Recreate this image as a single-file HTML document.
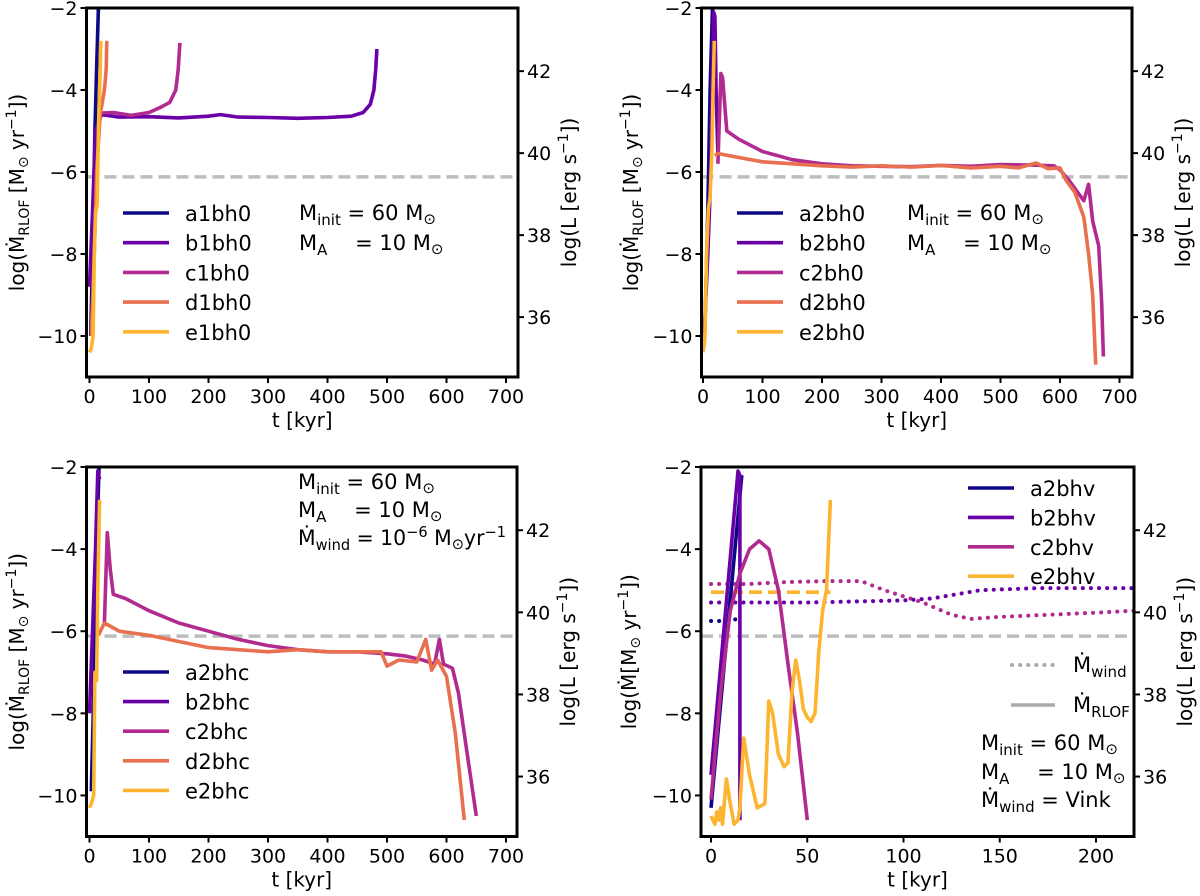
<!DOCTYPE html>
<html><head><meta charset="utf-8"><style>
body{margin:0;background:#fff;}
svg{display:block;font-family:"DejaVu Sans","Liberation Sans",sans-serif;}
</style></head><body>
<svg id="fig" width="1200" height="896" viewBox="0 0 1200 896"></svg>
<script>
// ---- data (t [kyr], log Mdot) ----
const p1Names = ["a1bh0","b1bh0","c1bh0","d1bh0","e1bh0"];
const p1a = [[2,-10],[6,-7.5],[9,-5],[12,-3.5],[15,-2]];
const p1b = [[0,-8.8],[5,-7],[10,-5],[20,-4.6],[50,-4.66],[100,-4.65],[150,-4.68],[200,-4.64],[220,-4.6],[250,-4.66],[300,-4.67],[350,-4.69],[400,-4.67],[440,-4.64],[460,-4.55],[472,-4.35],[478,-4.0],[481,-3.5],[483,-3.0]];
const p1c = [[20,-4.56],[40,-4.55],[70,-4.62],[100,-4.55],[120,-4.42],[135,-4.3],[145,-4.0],[149,-3.5],[152,-2.85]];
const p1d = [[3,-10],[8,-8],[12,-6],[18,-4.6],[25,-4],[28,-3.5],[29,-2.8]];
const p1e = [[0,-10.4],[3,-10.3],[6,-10],[8,-8],[10,-7],[13,-6.8],[15,-5],[17,-4],[19,-2.8]];

const p2Names = ["a2bh0","b2bh0","c2bh0","d2bh0","e2bh0"];
const p2a = [[3,-9.9],[8,-7],[12,-4],[16,-2]];
const p2b = [[2,-10],[8,-8],[12,-6.5],[15,-4],[18,-2.1],[20,-2.2],[22,-4],[25,-5.6]];
const p2c = [[25,-5.8],[30,-3.6],[33,-3.7],[40,-5],[60,-5.2],[100,-5.5],[150,-5.7],[200,-5.8],[250,-5.85],[300,-5.86],[350,-5.87],[400,-5.84],[450,-5.86],[500,-5.82],[550,-5.83],[590,-5.85],[600,-5.95],[615,-6.2],[630,-6.5],[640,-6.7],[648,-6.3],[655,-7.2],[665,-7.8],[670,-9.2],[673,-10.5]];
const p2d = [[20,-5.6],[25,-5.55],[50,-5.62],[100,-5.75],[150,-5.8],[200,-5.85],[250,-5.88],[300,-5.85],[350,-5.88],[400,-5.84],[450,-5.9],[500,-5.86],[530,-5.9],[560,-5.78],[580,-5.92],[600,-5.9],[610,-6.2],[625,-6.5],[640,-7.1],[648,-8],[655,-9],[660,-10.7]];
const p2e = [[0,-10.4],[3,-10.1],[6,-8],[9,-6.9],[12,-6.6],[15,-5.5],[17,-4],[19,-2.8]];

const p3Names = ["a2bhc","b2bhc","c2bhc","d2bhc","e2bhc"];
const p3a = [[3,-9.9],[8,-7],[12,-4],[16,-2]];
const p3b = [[0,-8],[5,-6],[10,-4],[14,-2.1],[17,-2.3]];
const p3c = [[25,-5.8],[30,-3.6],[35,-4.5],[40,-5.1],[60,-5.2],[100,-5.5],[150,-5.8],[200,-6.0],[250,-6.2],[300,-6.35],[350,-6.45],[400,-6.5],[450,-6.5],[500,-6.55],[530,-6.6],[560,-6.7],[580,-6.8],[588,-6.2],[595,-6.8],[610,-6.9],[620,-7.5],[630,-8.5],[640,-9.5],[650,-10.5]];
const p3d = [[15,-6.1],[25,-5.8],[50,-6],[100,-6.1],[150,-6.25],[200,-6.4],[250,-6.45],[300,-6.5],[350,-6.45],[400,-6.5],[450,-6.5],[490,-6.5],[500,-6.85],[520,-6.7],[550,-6.75],[565,-6.2],[575,-6.95],[585,-6.7],[600,-7.1],[615,-8.5],[630,-10.6]];
const p3e = [[0,-10.3],[3,-10.2],[7,-10],[9,-7],[12,-7.2],[14,-5],[17,-2.8]];

const p4Names = ["a2bhv","b2bhv","c2bhv","e2bhv"];
const p4a = [[0,-10.3],[16,-2.2]];
const p4b = [[0,-9.5],[14,-2.1],[15,-2.2],[15,-10.6]];
const p4c = [[0,-10.1],[5,-7.5],[10,-5.5],[15,-4.6],[20,-4.0],[25,-3.8],[30,-4.0],[35,-5],[40,-6.8],[45,-8.5],[50,-10.6]];
const p4e = [[0,-10.5],[2,-10.7],[3,-10.4],[4,-10.6],[5,-10.3],[6,-10.7],[8,-9.6],[10,-10.2],[12,-10.7],[14,-10.6],[15,-10.3],[17,-8.6],[20,-9.5],[24,-10.3],[28,-10.2],[30,-7.7],[32,-8],[35,-9],[38,-9.3],[40,-9.2],[42,-7.5],[44,-6.7],[46,-7.2],[48,-7.9],[50,-8.1],[52,-8.2],[54,-8.0],[56,-6.5],[58,-5.5],[60,-5],[62,-2.8]];
const p4windA = [[0,-5.75],[8,-5.75],[14,-5.7]];
const p4windB = [[0,-5.3],[50,-5.3],[100,-5.25],[115,-5.2],[140,-5.0],[170,-4.95],[220,-4.95]];
const p4windC = [[0,-4.85],[20,-4.85],[40,-4.8],[60,-4.78],[78,-4.78],[90,-5.0],[110,-5.3],[125,-5.6],[135,-5.7],[150,-5.65],[200,-5.55],[220,-5.5]];
const p4windE = [[0,-5.05],[62,-5.05]];

const xTicks700 = [0,100,200,300,400,500,600,700];
const xTicks220 = [0,50,100,150,200];
const yTicksL = [-2,-4,-6,-8,-10];
const yTicksR = [42,40,38,36];
const thresholdLogMdot = -6.12;

const COL = {a:"#0d0887", b:"#6a00a8", c:"#b12a90", d:"#e8704f", e:"#fdb42f"};
const NS = "http://www.w3.org/2000/svg";
const svg = document.getElementById("fig");
function el(tag, attrs, parent){ const e=document.createElementNS(NS,tag); for(const k in attrs) e.setAttribute(k,attrs[k]); (parent||svg).appendChild(e); return e; }

function makePanel(id, L, R, T, B, x0px, kx, xTicks) {
  const g = el("g",{});
  
  
  const ky = (B - T) / 9;
  const P = {
    g, L, R, T, B,
    x: t => x0px + t * kx,
    y: v => T + (-2 - v) * ky,
    yr: v => T + (43.54 - v) * ky
  };
  const cp = el("clipPath",{id:"clip-"+id}, g);
  el("rect",{x:L,y:T,width:R-L,height:B-T}, cp);
  P.plot = el("g",{"clip-path":"url(#clip-"+id+")"}, g);
  const th = el("line",{x1:L,x2:R,y1:P.y(thresholdLogMdot),y2:P.y(thresholdLogMdot),stroke:"#bdbdbd","stroke-width":3.5,"stroke-dasharray":"12,6"}, P.plot);
  
  
  xTicks.forEach(t=>{
    const px=P.x(t);
    el("line",{x1:px,x2:px,y1:B,y2:B+6,stroke:"#000","stroke-width":2},g);
    const tx=el("text",{x:px,y:B+26,"font-size":19,"text-anchor":"middle"},g); tx.textContent=t;
    
    
  });
  yTicksL.forEach(v=>{
    const py=P.y(v);
    el("line",{x1:L-6,x2:L,y1:py,y2:py,stroke:"#000","stroke-width":2},g);
    const tx=el("text",{x:L-9,y:py+7,"font-size":19,"text-anchor":"end"},g); tx.textContent="\u2212"+Math.abs(v);
    
    
  });
  yTicksR.forEach(v=>{
    const py=P.yr(v);
    el("line",{x1:R,x2:R+6,y1:py,y2:py,stroke:"#000","stroke-width":2},g);
    const tx=el("text",{x:R+9,y:py+7,"font-size":19},g); tx.textContent=v;
    
    
  });
  const fr=el("rect",{x:L,y:T,width:R-L,height:B-T,fill:"none",stroke:"#000","stroke-width":3},g);
  
  
  const xl=el("text",{x:(L+R)/2,y:B+50,"font-size":20,"text-anchor":"middle"},g); xl.textContent="t [kyr]";
  
  
  const cy=(T+B)/2;
  const rl=el("text",{x:0,y:0,"font-size":20,"text-anchor":"middle",transform:`translate(${R+58},${cy}) rotate(-90)`},g);
  rl.innerHTML='log(L [erg s<tspan dy="-8" font-size="14">\u22121</tspan><tspan dy="8">])</tspan>';
  
  
  return P;
}

function series(P, pts, color, name, dash){
  const d = pts.map((p,i)=>(i?"L":"M")+P.x(p[0]).toFixed(1)+","+P.y(p[1]).toFixed(1)).join(" ");
  const a={d, fill:"none", stroke:color, "stroke-width":3.6, "stroke-linejoin":"round","stroke-linecap":dash==="dot"?"round":"butt"};
  if(dash==="dot"){a["stroke-dasharray"]="0.1,8";a["stroke-width"]=4;}
  if(dash==="dash"){a["stroke-dasharray"]="13,6";}
  const p=el("path",a,P.plot);
  
  
}

function legend(P, names, cols, lx, ty, dy){
  names.forEach((n,i)=>{
    const y=ty+i*dy;
    const ln=el("line",{x1:lx,x2:lx+46,y1:y,y2:y,stroke:cols[i],"stroke-width":3.6},P.g);
    
    
    const t=el("text",{x:lx+62,y:y+8,"font-size":21},P.g); t.textContent=n;
    
    
  });
}
function note(P, x, y, html, name, len){
  const a={x, y, "font-size":21};
  if(len){a.textLength=len;a.lengthAdjust="spacingAndGlyphs";}
  const t=el("text",a, P.g); t.innerHTML=html;
  
  
}
function yLabel(P, x, sub){
  const t=el("text",{x:0,y:0,"font-size":20,"text-anchor":"middle",transform:`translate(${x},${(P.T+P.B)/2}) rotate(-90)`},P.g);
  t.innerHTML='log(M\u0307'+(sub?'<tspan dy="5" font-size="14">'+sub+'</tspan><tspan dy="-5"> </tspan>':'')+'[M<tspan dy="4" font-size="14">\u2299</tspan><tspan dy="-4"> yr</tspan><tspan dy="-8" font-size="14">\u22121</tspan><tspan dy="8">])</tspan>';
  
  
}
const MINIT='M<tspan dy="5" font-size="15">init</tspan><tspan dy="-5"> = 60 M</tspan><tspan dy="4" font-size="15">\u2299</tspan>';
const MA='M<tspan dy="5" font-size="15">A</tspan><tspan dy="-5">\u2003 = 10 M</tspan><tspan dy="4" font-size="15">\u2299</tspan>';
const cols5=[COL.a,COL.b,COL.c,COL.d,COL.e];

const P1 = makePanel("panel-a1", 86.5, 518, 8, 377, 89.5, 0.595, xTicks700);
[p1a,p1b,p1c,p1d,p1e].forEach((s,i)=>series(P1,s,cols5[i],"line-"+p1Names[i]));
legend(P1,p1Names,cols5,123,213,29.7);
note(P1,299,220,MINIT,"annotation-minit");
note(P1,299,250,MA,"annotation-ma");
yLabel(P1,24,"RLOF");

const P2 = makePanel("panel-a2", 701.5, 1132, 8, 377, 703, 0.595, xTicks700);
[p2a,p2b,p2c,p2d,p2e].forEach((s,i)=>series(P2,s,cols5[i],"line-"+p2Names[i]));
legend(P2,p2Names,cols5,737,213,29.7);
note(P2,907,220,MINIT,"annotation-minit");
note(P2,907,250,MA,"annotation-ma");
yLabel(P2,638,"RLOF");

const P3 = makePanel("panel-c", 86.5, 517, 467, 836.5, 89.5, 0.595, xTicks700);
[p3a,p3b,p3c,p3d,p3e].forEach((s,i)=>series(P3,s,cols5[i],"line-"+p3Names[i]));
legend(P3,p3Names,cols5,123,672,29.6);
note(P3,298,489,MINIT,"annotation-minit");
note(P3,298,517,MA,"annotation-ma");
note(P3,298,545,'M\u0307<tspan dy="5" font-size="15">wind</tspan><tspan dy="-5"> = 10</tspan><tspan dy="-8" font-size="15">\u22126</tspan><tspan dy="8"> M</tspan><tspan dy="4" font-size="15">\u2299</tspan><tspan dy="-4">yr</tspan><tspan dy="-8" font-size="15">\u22121</tspan>',"annotation-mwind",208);
yLabel(P3,24,"RLOF");

const P4 = makePanel("panel-v", 701, 1134, 467, 836.5, 711, 1.925, xTicks220);
series(P4,p4windC,COL.c,"wind-c2bhv","dot");
series(P4,p4windB,COL.b,"wind-b2bhv","dot");
series(P4,p4windA,COL.a,"wind-a2bhv","dot");
series(P4,p4windE,COL.e,"wind-e2bhv","dash");
[p4a,p4b,p4c,p4e].forEach((s,i)=>series(P4,s,[COL.a,COL.b,COL.c,COL.e][i],"line-"+p4Names[i]));
legend(P4,p4Names,[COL.a,COL.b,COL.c,COL.e],968,488,29.4);
(function(){
  const l1=el("line",{x1:1012,x2:1055,y1:665,y2:665,stroke:"#aaa","stroke-width":4,"stroke-dasharray":"0.1,8","stroke-linecap":"round"},P4.g);
  
  
  note(P4,1073,672,'M\u0307<tspan dy="5" font-size="15">wind</tspan>',"legend-entry-wind");
  const l2=el("line",{x1:1011,x2:1055,y1:705,y2:705,stroke:"#aaa","stroke-width":3.6},P4.g);
  
  
  note(P4,1073,712,'M\u0307<tspan dy="5" font-size="15">RLOF</tspan>',"legend-entry-rlof");
})();
note(P4,981,750,MINIT,"annotation-minit");
note(P4,981,779,MA,"annotation-ma");
note(P4,981,807,'M\u0307<tspan dy="5" font-size="15">wind</tspan><tspan dy="-5"> = Vink</tspan>',"annotation-mwind");
yLabel(P4,636,"");
</script>
</body></html>
